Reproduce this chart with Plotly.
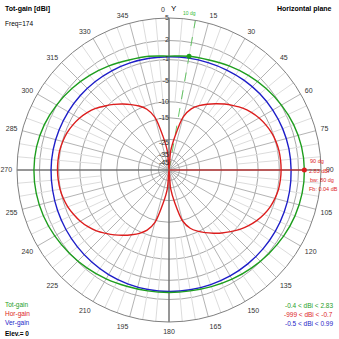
import plotly.graph_objects as go

# ---------------- data ----------------
# Tot-gain (green) and Ver-gain (blue), dBi, every 10 deg
ang10 = list(range(0, 360, 10))
tot_gain = [-0.4, -0.15, 0.1, 0.6, 1.1, 1.6, 2.05, 2.45, 2.72, 2.83,
            2.8, 2.65, 2.4, 2.1, 1.8, 1.5, 1.2, 1.0, 0.95, 1.0,
            1.15, 1.45, 1.75, 2.05, 2.35, 2.6, 2.75, 2.79, 2.7, 2.45,
            2.05, 1.6, 1.1, 0.6, 0.1, -0.15]
ver_gain = [-0.5, -0.45, -0.35, -0.15, 0.1, 0.35, 0.55, 0.72, 0.85, 0.9,
            0.95, 0.97, 0.99, 0.99, 0.97, 0.93, 0.88, 0.83, 0.8, 0.78,
            0.75, 0.7, 0.6, 0.5, 0.42, 0.35, 0.28, 0.25, 0.2, 0.1,
            0.0, -0.1, -0.2, -0.3, -0.4, -0.48]
# Hor-gain (red), dBi, every 5 deg
ang5 = list(range(0, 360, 5))
hor_gain = [-999, -34, -23, -14, -10.9, -9.25, -8.0, -6.8, -5.65, -4.6, -3.55, -2.75,
            -2.1, -1.6, -1.2, -0.95, -0.78, -0.72,
            -0.7,
            -0.75, -0.85, -1.1, -1.45, -1.95, -2.6, -3.4, -4.3, -5.4, -6.5, -7.7, -8.9,
            -10.2, -11.8, -14.8, -23.5, -34.5,
            -999,
            -34.3, -23.3, -14.3, -11.2, -9.55, -8.3, -7.1, -5.95, -4.9, -3.85, -3.05, -2.4,
            -1.9, -1.45, -1.15, -0.95, -0.85,
            -0.8,
            -0.82, -0.88, -1.05, -1.3, -1.7, -2.2, -2.85, -3.65, -4.7, -5.75, -6.9, -8.1,
            -9.35, -11.0, -14.1, -23.1, -34.1]

grid_db = [2, -1, -5, -10, -15, -25, -35, -45]
label_db = [5, 2, -1, -5, -10, -15, -25, -35, -45]
ang_ticks = list(range(0, 360, 15))
marker_ang = 10
max_ang = 90
max_db = 2.83

DB_MAX = 5.0
K = 0.948


def rmap(vals):
    return [K ** (DB_MAX - v) for v in vals]


GREEN = '#1e9e1e'
RED = '#dc1e1e'
BLUE = '#1e1ec8'
FONT = 'Liberation Sans'

fig = go.Figure()

# light 5-degree spokes (outer part)
th, rr = [], []
for a in range(0, 360, 5):
    if a % 15:
        th += [a, a, None]
        rr += [rmap([-10])[0], 1.0, None]
fig.add_trace(go.Scatterpolar(theta=th, r=rr, mode='lines',
                              line=dict(color='#dcdcdc', width=1), hoverinfo='skip'))

# axis lines
fig.add_trace(go.Scatterpolar(theta=[0, 0, 180], r=[1.055, 0, 1.0], mode='lines',
                              line=dict(color='#555555', width=1), cliponaxis=False, hoverinfo='skip'))
fig.add_trace(go.Scatterpolar(theta=[270, 270, 90], r=[1.0, 0, 1.0], mode='lines',
                              line=dict(color='#555555', width=1), cliponaxis=False, hoverinfo='skip'))

# dashed marker line at 10 deg
fig.add_trace(go.Scatterpolar(theta=[marker_ang, marker_ang], r=[0, 1.04], mode='lines',
                              line=dict(color='#44bb44', width=0.8, dash='dash'),
                              cliponaxis=False, hoverinfo='skip'))

# curves
fig.add_trace(go.Scatterpolar(theta=ang5 + [ang5[0]], r=rmap(hor_gain + [hor_gain[0]]),
                              mode='lines', line=dict(color=RED, width=1.4, shape='spline',
                                                      smoothing=0.8)))
fig.add_trace(go.Scatterpolar(theta=ang10 + [ang10[0]], r=rmap(ver_gain + [ver_gain[0]]),
                              mode='lines', line=dict(color=BLUE, width=1.4, shape='spline')))
fig.add_trace(go.Scatterpolar(theta=ang10 + [ang10[0]], r=rmap(tot_gain + [tot_gain[0]]),
                              mode='lines', line=dict(color=GREEN, width=1.4, shape='spline')))

# max marker line and dot
fig.add_trace(go.Scatterpolar(theta=[max_ang, max_ang], r=[0] + rmap([max_db]), mode='lines',
                              line=dict(color=RED, width=1), hoverinfo='skip'))
fig.add_trace(go.Scatterpolar(theta=[max_ang], r=rmap([max_db]), mode='markers',
                              marker=dict(color=RED, size=5), cliponaxis=False))
fig.add_trace(go.Scatterpolar(theta=[marker_ang], r=rmap([tot_gain[ang10.index(marker_ang)]]),
                              mode='markers', marker=dict(color=GREEN, size=5)))

# radial labels
fig.add_trace(go.Scatterpolar(theta=[0] * len(label_db), r=rmap(label_db), mode='text',
                              text=[str(v) for v in label_db],
                              textposition=['middle left' if v > -20 else 'bottom left'
                                            for v in label_db],
                              textfont=dict(size=7, color='#333333', family=FONT),
                              cliponaxis=False, hoverinfo='skip'))

fig.update_layout(
    width=339, height=339, margin=dict(l=0, r=0, t=0, b=0),
    paper_bgcolor='white', showlegend=False,
    polar=dict(
        domain=dict(x=[17 / 339, 321 / 339], y=[1 - 322 / 339, 1 - 18 / 339]),
        bgcolor='white',
        radialaxis=dict(range=[0, 1], tickvals=rmap(grid_db), showticklabels=False,
                        ticks='', showline=False, gridcolor='#a8a8a8', gridwidth=1),
        angularaxis=dict(rotation=90, direction='clockwise', tickvals=ang_ticks,
                         ticktext=['' if a == 0 else str(a) for a in ang_ticks],
                         ticks='outside', ticklen=3, tickcolor='rgba(0,0,0,0)',
                         gridcolor='#b4b4b4', showline=True, linecolor='#808080',
                         tickfont=dict(size=7, color='#333333', family=FONT)),
    ),
)


def ann(text, x, y, color='black', size=7, xanchor='left', bold=False):
    if bold:
        text = '<b>' + text + '</b>'
    fig.add_annotation(text=text, x=x / 339, y=1 - y / 339, xref='paper', yref='paper',
                       showarrow=False, xanchor=xanchor, yanchor='middle',
                       font=dict(size=size, color=color, family=FONT))


ann('Tot-gain [dBi]', 3, 9, bold=True)
ann('Freq=174', 3, 24, size=6.5)
ann('Horizontal plane', 334, 9, xanchor='right', bold=True)
ann('0', 163, 9, xanchor='center', size=7, color='#333333')
ann('Y', 174, 8, xanchor='center', size=8)
ann('10 dg', 189, 13, color='#33bb33', xanchor='center', size=5)
ann('90 dg', 308, 161, color=RED, size=5.5)
ann('2.83 dBi', 307, 171, color=RED, size=5.5)
ann('bw: 80 dg', 308, 180, color=RED, size=5.5)
ann('Fb: 0.04 dB', 307, 189, color=RED, size=5.5)
ann('Tot-gain', 3, 305, color=GREEN, size=6.5)
ann('Hor-gain', 3, 314, color=RED, size=6.5)
ann('Ver-gain', 3, 323, color=BLUE, size=6.5)
ann('Elev.= 0', 3, 333, size=6.5, bold=True)
ann('-0.4 &lt; dBi &lt; 2.83', 335, 305, color=GREEN, xanchor='right', size=6.5)
ann('-999 &lt; dBi &lt; -0.7', 335, 314, color=RED, xanchor='right', size=6.5)
ann('-0.5 &lt; dBi &lt; 0.99', 335, 323, color=BLUE, xanchor='right', size=6.5)

fig.write_html('out.html')
